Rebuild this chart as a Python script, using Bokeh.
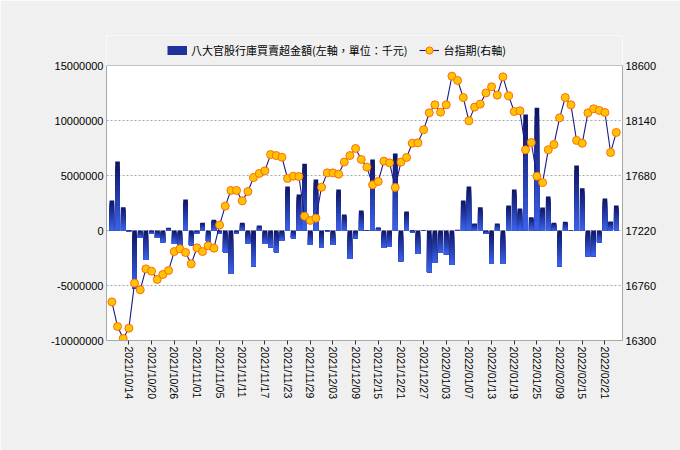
from bokeh.plotting import figure
from bokeh.models import (Range1d, LinearAxis, FixedTicker, NumeralTickFormatter,
                          Legend, LegendItem, ColumnDataSource, BoxAnnotation, Span)
from bokeh.embed import file_html
from bokeh.resources import INLINE

dates = ["2021/10/08", "2021/10/12", "2021/10/13", "2021/10/14", "2021/10/15", "2021/10/18",
         "2021/10/19", "2021/10/20", "2021/10/21", "2021/10/22", "2021/10/25", "2021/10/26",
         "2021/10/27", "2021/10/28", "2021/10/29", "2021/11/01", "2021/11/02", "2021/11/03",
         "2021/11/04", "2021/11/05", "2021/11/08", "2021/11/09", "2021/11/10", "2021/11/11",
         "2021/11/12", "2021/11/15", "2021/11/16", "2021/11/17", "2021/11/18", "2021/11/19",
         "2021/11/22", "2021/11/23", "2021/11/24", "2021/11/25", "2021/11/26", "2021/11/29",
         "2021/11/30", "2021/12/01", "2021/12/02", "2021/12/03", "2021/12/06", "2021/12/07",
         "2021/12/08", "2021/12/09", "2021/12/10", "2021/12/13", "2021/12/14", "2021/12/15",
         "2021/12/16", "2021/12/17", "2021/12/20", "2021/12/21", "2021/12/22", "2021/12/23",
         "2021/12/24", "2021/12/27", "2021/12/28", "2021/12/29", "2021/12/30", "2022/01/03",
         "2022/01/04", "2022/01/05", "2022/01/06", "2022/01/07", "2022/01/10", "2022/01/11",
         "2022/01/12", "2022/01/13", "2022/01/14", "2022/01/17", "2022/01/18", "2022/01/19",
         "2022/01/20", "2022/01/21", "2022/01/24", "2022/01/25", "2022/01/26", "2022/02/07",
         "2022/02/08", "2022/02/09", "2022/02/10", "2022/02/11", "2022/02/14", "2022/02/15",
         "2022/02/16", "2022/02/17", "2022/02/18", "2022/02/21", "2022/02/22", "2022/02/23"]

net_buy = [2730000, 6270000, 2120000, -60000, -5240000, -670000, -2670000, -300000, -670000, -1060000,
           240000, -1210000, -1500000, 2820000, -1330000, -240000, 700000, -970000, 970000, -240000,
           -1970000, -3940000, -300000, 700000, -1150000, -3240000, 450000, -1210000, -1520000, -1970000,
           -900000, 4000000, -700000, 3270000, 6060000, -1300000, 4640000, -1600000, -60000, -1300000,
           3730000, 1450000, -2600000, -700000, 1820000, -50000, 6450000, 270000, -1600000, -1500000,
           7000000, -2790000, 1730000, -150000, -2120000, -30000, -3790000, -2940000, -2030000, -2180000,
           -3120000, 60000, 2730000, 4000000, 640000, 2120000, -300000, -3030000, 640000, -3030000,
           2270000, 3730000, 2000000, 10550000, 1210000, 11150000, 2090000, 3090000, 700000, -3240000,
           790000, -30000, 5910000, 3850000, -2330000, -2330000, -1060000, 2910000, 820000, 2270000]

futures = [16623, 16417, 16317, 16403, 16780, 16724, 16899, 16880, 16810, 16852,
           16885, 17044, 17067, 17036, 16941, 17075, 17044, 17092, 17072, 17265,
           17424, 17555, 17555, 17468, 17546, 17663, 17697, 17719, 17855, 17847,
           17833, 17655, 17674, 17672, 17340, 17304, 17323, 17582, 17702, 17702,
           17691, 17792, 17847, 17906, 17814, 17750, 17602, 17630, 17800, 17786,
           17580, 17792, 17831, 17950, 17953, 18062, 18204, 18271, 18210, 18271,
           18511, 18475, 18332, 18137, 18252, 18277, 18371, 18422, 18352, 18505,
           18346, 18215, 18221, 17895, 17956, 17674, 17621, 17895, 17939, 18162,
           18332, 18271, 17973, 17950, 18204, 18238, 18224, 18207, 17872, 18040]

left_ticks = [-10000000, -5000000, 0, 5000000, 10000000, 15000000]
right_ticks = [16300, 16760, 17220, 17680, 18140, 18600]
label_idx = list(range(3, len(dates), 4))

bar_label = "八大官股行庫買賣超金額(左軸，單位：千元)"
line_label = "台指期(右軸)"

FONT = "Liberation Sans"
BG = "#F0F0F0"
AXC = "#a8a8a8"

# layout (pixels)
PLOT_H = 275          # height of the value area
STRIP = 30           # strip above value area holding the legend
frac = STRIP / PLOT_H
l_lo, l_hi = left_ticks[0], left_ticks[-1]
r_lo, r_hi = right_ticks[0], right_ticks[-1]

p = figure(width=680, height=450, output_backend="svg", toolbar_location=None,
           x_range=Range1d(-0.95, 90.1),
           y_range=Range1d(l_lo, l_hi + (l_hi - l_lo) * frac),
           min_border_left=106, min_border_right=58, min_border_top=65 - STRIP,
           min_border_bottom=110)
p.border_fill_color = BG
p.background_fill_color = "white"
p.outline_line_color = None
p.extra_y_ranges = {"right": Range1d(r_lo, r_hi + (r_hi - r_lo) * frac)}

# strip above the value area painted like the page
p.add_layout(BoxAnnotation(bottom=l_hi, fill_color=BG, fill_alpha=1, line_alpha=0,
                           level="underlay"))
p.add_layout(Span(location=l_hi, dimension="width", line_color="#c4c4c4", line_width=1))

# gradient bars simulated by overlapping slices
N = 14
c_top = (14, 22, 104)
c_bot = (58, 96, 232)
xs, tops, bots, cols = [], [], [], []
for i, v in enumerate(net_buy):
    top = max(v, 0)
    bot = min(v, 0)
    h = top - bot
    for k in range(N):
        t = k / (N - 1)
        rgb = tuple(int(round(a + (b - a) * t)) for a, b in zip(c_top, c_bot))
        xs.append(i)
        tops.append(top - h * k / N)
        bots.append(bot)
        cols.append("#%02x%02x%02x" % rgb)
bsrc = ColumnDataSource(dict(x=xs, top=tops, bottom=bots, color=cols))
p.vbar(x="x", top="top", bottom="bottom", width=0.82, fill_color="color",
       line_color=None, source=bsrc)

# legend proxy for the bars: a thick line draws as a small filled block
dummy = p.line(x=[-100, -99], y=[0, 0], line_width=9, line_color="#22329c", line_cap="butt")

lsrc = ColumnDataSource(dict(x=list(range(len(futures))), y=futures))
ln = p.line("x", "y", source=lsrc, y_range_name="right", line_color="#1a1a84", line_width=1.1)
sc = p.scatter("x", "y", source=lsrc, y_range_name="right", size=8, fill_color="#FFC400",
               line_color="#FF6A10", line_width=1)

# axes
xa = p.xaxis[0]
xa.ticker = FixedTicker(ticks=label_idx)
xa.major_label_overrides = {i: dates[i] for i in label_idx}
xa.major_label_orientation = "vertical"
xa.major_label_text_font = FONT
xa.major_label_text_font_size = "10.5px"
xa.major_label_text_color = "black"
xa.major_label_standoff = 2
xa.major_tick_in = 0
xa.major_tick_out = 4
xa.major_tick_line_color = "#303030"
xa.minor_tick_line_color = None
xa.axis_line_color = AXC
p.xgrid.visible = False

ya = p.yaxis[0]
ya.ticker = FixedTicker(ticks=left_ticks)
ya.bounds = (l_lo, l_hi)
ya.formatter = NumeralTickFormatter(format="0")
ya.major_label_text_font = FONT
ya.major_label_text_font_size = "11px"
ya.major_label_text_color = "black"
ya.major_label_standoff = 3
ya.major_tick_in = 0
ya.major_tick_out = 0
ya.minor_tick_in = 0
ya.minor_tick_out = 0
ya.major_tick_line_color = None
ya.minor_tick_line_color = None
ya.axis_line_color = AXC

ra = LinearAxis(y_range_name="right", ticker=FixedTicker(ticks=right_ticks), bounds=(r_lo, r_hi))
ra.major_label_text_font = FONT
ra.major_label_text_font_size = "11px"
ra.major_label_text_color = "black"
ra.major_label_standoff = 3
ra.major_tick_in = 0
ra.major_tick_out = 0
ra.minor_tick_in = 0
ra.minor_tick_out = 0
ra.major_tick_line_color = None
ra.minor_tick_line_color = None
ra.axis_line_color = AXC
p.add_layout(ra, "right")

g = p.ygrid[0]
g.ticker = FixedTicker(ticks=left_ticks[1:-1])
g.grid_line_color = AXC
g.grid_line_dash = "2 2"

leg = Legend(items=[LegendItem(label=bar_label, renderers=[dummy]),
                    LegendItem(label=line_label, renderers=[ln, sc])],
             location=(61, PLOT_H + 6), orientation="horizontal", padding=0, margin=0,
             spacing=12, glyph_width=20, glyph_height=18, label_height=18, label_standoff=4,
             background_fill_alpha=0, border_line_color=None,
             label_text_font="Noto Sans CJK TC", label_text_font_size="11px",
             label_text_color="black")
p.add_layout(leg, "center")

open("out.html", "w").write(file_html(p, INLINE))
